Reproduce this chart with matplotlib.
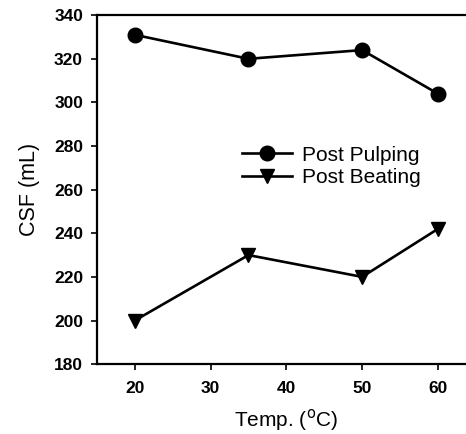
import matplotlib.pyplot as plt

plt.rcParams['font.family'] = ['Liberation Sans', 'DejaVu Sans']

temps = [20, 35, 50, 60]
post_pulping = [331, 320, 324, 304]
post_beating = [200, 230, 220, 242]
x_ticks = [20, 30, 40, 50, 60]
y_ticks = [180, 200, 220, 240, 260, 280, 300, 320, 340]

fig = plt.figure(figsize=(4.66, 4.34), dpi=100)
ax = fig.add_axes([0.208, 0.161, 0.813, 0.804])

ax.plot(temps, post_pulping, '-o', color='k', lw=1.9, markersize=10.5, label='Post Pulping')
ax.plot(temps, post_beating, '-v', color='k', lw=1.9, markersize=10.5, label='Post Beating')

ax.set_xlim(15, 65)
ax.set_ylim(180, 340)
ax.set_xticks(x_ticks)
ax.set_yticks(y_ticks)
ax.tick_params(direction='out', length=4, width=1.2, labelsize=12.5)
ax.tick_params(axis='x', pad=8)
ax.tick_params(axis='y', pad=6)
for lab in ax.get_xticklabels() + ax.get_yticklabels():
    lab.set_fontweight('bold')
for s in ax.spines.values():
    s.set_linewidth(1.6)
ax.spines['right'].set_visible(False)

ax.set_xlabel('Temp. ($^{\\rm o}$C)', fontsize=15, labelpad=8)
ax.set_ylabel('CSF (mL)', fontsize=15.5, labelpad=10)

ax.legend(loc='center left', bbox_to_anchor=(0.383, 0.567), frameon=False,
          fontsize=15, handlelength=2.4, handletextpad=0.5, labelspacing=0.15,
          borderpad=0, borderaxespad=0)

plt.savefig('out.png', dpi=100)
